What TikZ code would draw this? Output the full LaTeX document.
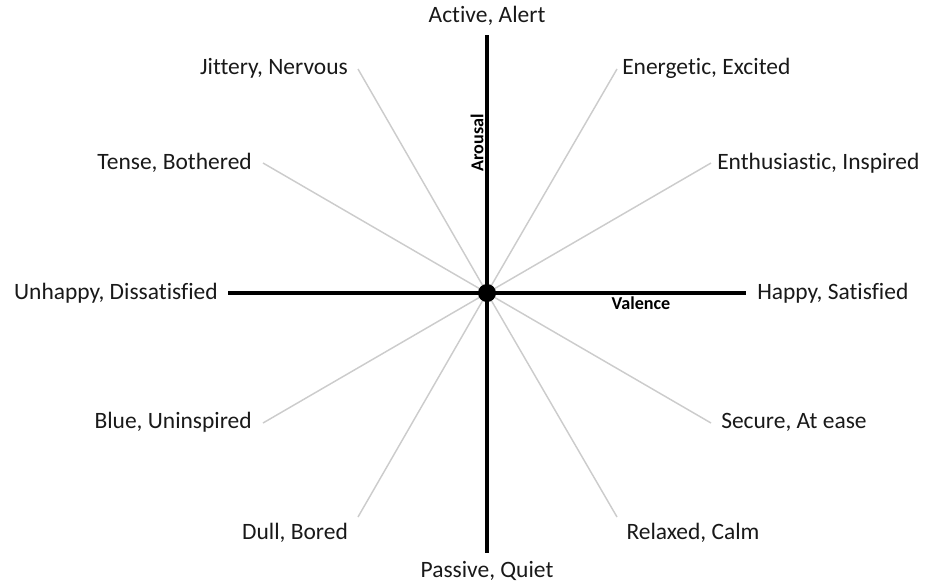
\documentclass[tikz,border=0pt]{standalone}
\usepackage{fontspec}
\setmainfont[Ligatures=NoCommon]{Carlito}
\begin{document}
\begin{tikzpicture}[x=0.75pt,y=-0.75pt]
\tikzset{
  lbl/.style={inner sep=0pt, font=\fontsize{17.6}{20}\selectfont, text=black!90},
  ray/.style={draw=black!20, line width=1.1pt},
  axis/.style={draw=black, line width=3pt},
  axlbl/.style={inner sep=0pt, font=\fontsize{13.6}{15}\selectfont\bfseries}
}
\useasboundingbox (0,0) rectangle (925,586);
\coordinate (c) at (487,293);
% ray ends
\coordinate (rJ) at (358,69);
\coordinate (rE) at (617,69);
\coordinate (rT) at (263,163);
\coordinate (rI) at (711,163);
\coordinate (rB) at (263,423);
\coordinate (rS) at (711,423);
\coordinate (rD) at (358,517);
\coordinate (rR) at (617,517);
% axis ends
\coordinate (aT) at (487,35);
\coordinate (aB) at (487,553);
\coordinate (aL) at (228,293);
\coordinate (aR) at (746,293);
% rays
\foreach \p in {rJ,rE,rT,rI,rB,rS,rD,rR} \draw[ray] (c) -- (\p);
% axes
\draw[axis] (aT) -- (aB);
\draw[axis] (aL) -- (aR);
\node[circle, fill=black, inner sep=0pt, minimum size=13.5pt] (dot) at (c) {};
% labels
\node[lbl] (active) at (487,16) {Active, Alert};
\node[lbl] (passive) at (487,571) {Passive, Quiet};
\node[lbl, anchor=east] (unhappy) at (218,293) {Unhappy, Dissatisfied};
\node[lbl, anchor=west] (happy) at (757,293) {Happy, Satisfied};
\node[lbl, anchor=east] (jit) at (348,68) {Jittery, Nervous};
\node[lbl, anchor=west] (ene) at (622,68) {Energetic, Excited};
\node[lbl, anchor=east] (ten) at (252,163) {Tense, Bothered};
\node[lbl, anchor=west] (ent) at (717,163) {Enthusiastic, Inspired};
\node[lbl, anchor=east] (blu) at (252,422) {Blue, Uninspired};
\node[lbl, anchor=west] (sec) at (721,422) {Secure, At ease};
\node[lbl] (dul) at (295,533) {Dull, Bored};
\node[lbl] (rel) at (693,533) {Relaxed, Calm};
\node[axlbl, rotate=90] (arousal) at (477,143) {Arousal};
\node[axlbl] (valence) at (641,303) {Valence};
\end{tikzpicture}
\end{document}
